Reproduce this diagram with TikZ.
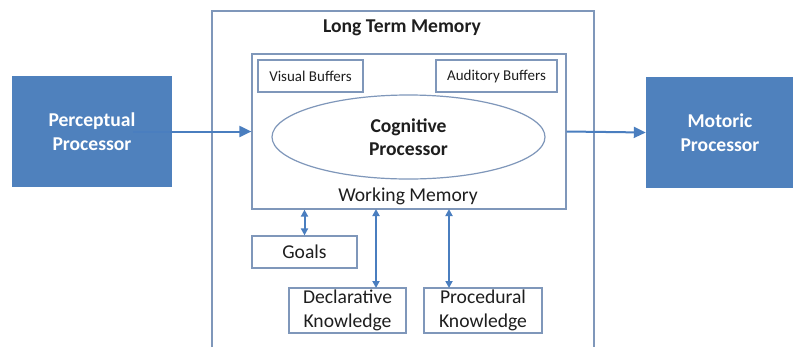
\documentclass[tikz,border=0pt]{standalone}
\usepackage{fontspec}
\setmainfont{Carlito}
\usetikzlibrary{arrows.meta,shapes.geometric}
\definecolor{procblue}{HTML}{4F81BD}
\definecolor{arrblue}{HTML}{4A7EBF}
\definecolor{edgegray}{HTML}{7F97BA}
\definecolor{txt}{HTML}{1E1E1E}
\tikzset{
  box/.style={draw=edgegray, line width=1.2bp, fill=white, inner sep=0pt, text=txt, align=center},
  bigtxt/.style={font=\fontsize{19.6bp}{23.5bp}\selectfont},
  smalltxt/.style={font=\fontsize{15bp}{18bp}\selectfont},
  proc/.style={fill=procblue, draw=none, inner sep=0pt, text=white, align=center, font=\fontsize{19.6bp}{24bp}\selectfont\bfseries},
  arr/.style={draw=arrblue, line width=2bp, -{Triangle[length=12bp,width=11bp]}},
  darr/.style={draw=arrblue, line width=2bp, {Triangle[length=7bp,width=7bp]}-{Triangle[length=7bp,width=7bp]}}
}
\begin{document}
\begin{tikzpicture}[x=1bp,y=-1bp]
\useasboundingbox (0,0) rectangle (793,347);
% Long term memory open frame
\draw[edgegray, line width=1.2bp] (212,347) -- (212,11) -- (594,11) -- (594,347);
\node[txt, font=\fontsize{19.6bp}{23bp}\selectfont\bfseries] (ltm) at (402,28) {Long Term Memory};
% Working memory
\node[box, minimum width=314bp, minimum height=155bp] (wm) at (409,131.5) {};
\node[txt, bigtxt] (wmlabel) at (408,196) {Working Memory};
\node[box, smalltxt, minimum width=105bp, minimum height=32bp] (vis) at (310.5,76) {Visual Buffers};
\node[box, smalltxt, minimum width=121bp, minimum height=32bp] (aud) at (496.5,76) {Auditory Buffers};
\node[ellipse, draw=edgegray, line width=1.2bp, minimum width=273bp, minimum height=84bp, inner sep=0pt, text=txt, align=center, font=\fontsize{19.6bp}{23bp}\selectfont\bfseries] (cog) at (408.5,137) {Cognitive\\Processor};
% processors
\node[proc, minimum width=160bp, minimum height=111bp] (perc) at (92,131.5) {Perceptual\\Processor};
\node[proc, minimum width=148bp, minimum height=111bp] (mot) at (720,132.5) {Motoric\\Processor};
% lower boxes
\node[box, bigtxt, minimum width=105bp, minimum height=32bp] (goals) at (304.5,252) {Goals};
\node[box, bigtxt, minimum width=117bp, minimum height=45bp] (decl) at (347.5,310.5) {Declarative\\Knowledge};
\node[box, bigtxt, minimum width=118bp, minimum height=45bp] (proc) at (483,310.5) {Procedural\\Knowledge};
% arrows
\draw[arr] ([xshift=-39bp]perc.east) -- (wm.west);
\draw[arr] (wm.east) -- (mot.west);
\draw[darr] (wm.south -| goals.north) -- (goals.north);
\coordinate (d1) at (376,209);
\coordinate (d2) at (376,288);
\draw[darr] (d1) -- (d2);
\coordinate (p1) at (449,209);
\coordinate (p2) at (449,288);
\draw[darr] (p1) -- (p2);
\end{tikzpicture}
\end{document}
